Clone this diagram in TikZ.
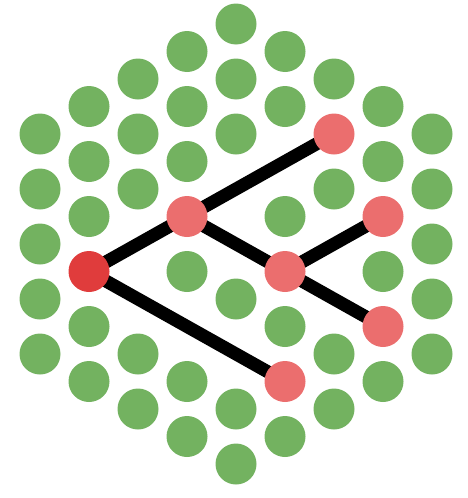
\documentclass[tikz,border=0pt]{standalone}
\usetikzlibrary{backgrounds}
\definecolor{dotgreen}{HTML}{73B260}
\definecolor{dotpink}{HTML}{EB6E6E}
\definecolor{dotred}{HTML}{E03C3C}
\begin{document}
\begin{tikzpicture}[x=1pt,y=-1pt,
  dot/.style={circle,minimum size=41pt,inner sep=0pt,draw=none,fill=#1},
  edge/.style={line width=13pt,black}]
\useasboundingbox (0,0) rectangle (467,498);
% green lattice dots
\foreach \px/\py [count=\n] in {
  40/134,40/189,40/244,40/299,40/354,
  89/106.5,89/161.5,89/216.5,89/326.5,89/381.5,
  138/79,138/134,138/189,138/354,138/409,
  187/51.5,187/106.5,187/161.5,187/271.5,187/381.5,187/436.5,
  236/24,236/79,236/134,236/299,236/409,236/464,
  285/51.5,285/106.5,285/216.5,285/326.5,285/436.5,
  334/79,334/189,334/354,334/409,
  383/106.5,383/161.5,383/271.5,383/381.5,
  432/134,432/189,432/244,432/299,432/354}
  \node[dot=dotgreen] (g\n) at (\px,\py) {};
% path nodes
\node[dot=dotred]  (A) at (89,271.5) {};
\node[dot=dotpink] (B) at (187,216.5) {};
\node[dot=dotpink] (C) at (334,134) {};
\node[dot=dotpink] (D) at (285,271.5) {};
\node[dot=dotpink] (E) at (383,216.5) {};
\node[dot=dotpink] (F) at (383,326.5) {};
\node[dot=dotpink] (G) at (285,381.5) {};
\begin{scope}[on background layer]
  \draw[edge] (A.center) -- (B.center);
  \draw[edge] (B.center) -- (C.center);
  \draw[edge] (A.center) -- (G.center);
  \draw[edge] (B.center) -- (D.center);
  \draw[edge] (D.center) -- (F.center);
  \draw[edge] (D.center) -- (E.center);
\end{scope}
\end{tikzpicture}
\end{document}
